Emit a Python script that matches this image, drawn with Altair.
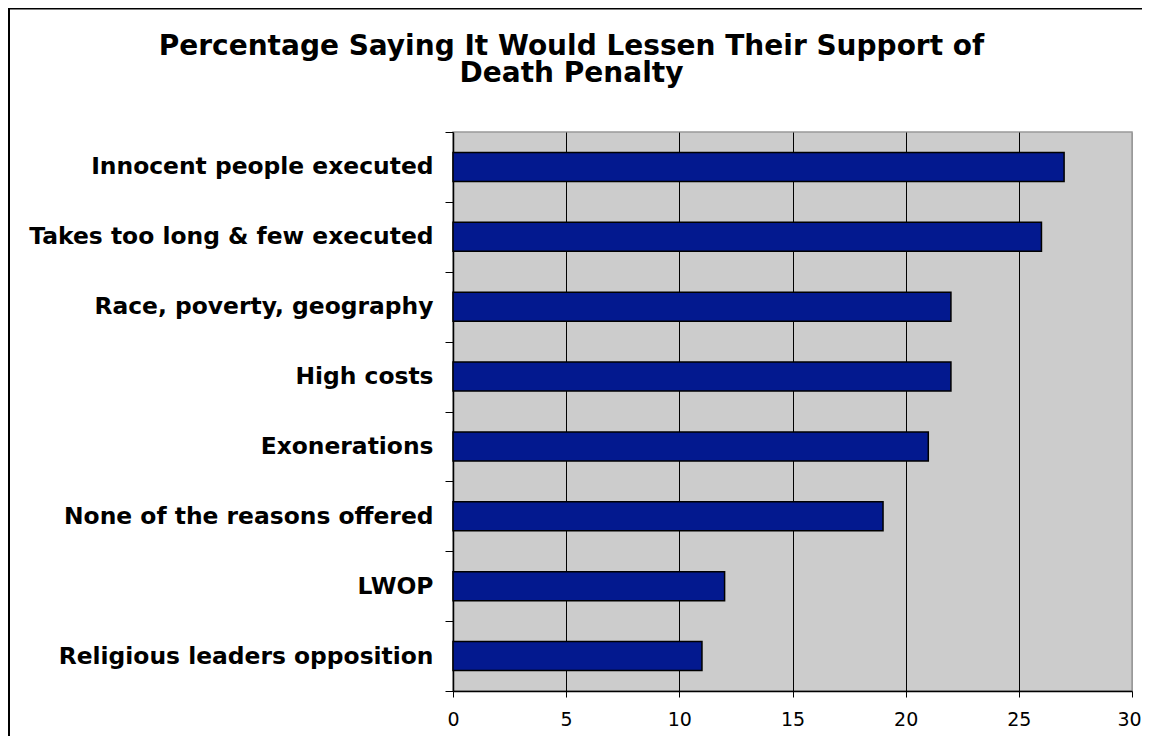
import altair as alt
import pandas as pd

categories = [
    "Innocent people executed",
    "Takes too long & few executed",
    "Race, poverty, geography",
    "High costs",
    "Exonerations",
    "None of the reasons offered",
    "LWOP",
    "Religious leaders opposition",
]
values = [27, 26, 22, 22, 21, 19, 12, 11]
x_ticks = [0, 5, 10, 15, 20, 25, 30]
title_lines = ["Percentage Saying It Would Lessen Their Support of", "Death Penalty"]

df = pd.DataFrame({"reason": categories, "pct": values})

W, H = 679, 559
PL, PT, PR, PB = 445, 124, 10, 45
FONT = "DejaVu Sans"

bars = alt.Chart(df).mark_bar(
    size=29, color="#03198F", stroke="black", strokeWidth=1.5
).encode(
    y=alt.Y(
        "reason:N",
        sort=categories,
        scale=alt.Scale(paddingInner=0, paddingOuter=0),
        axis=alt.Axis(
            title=None,
            tickBand="extent",
            tickSize=8,
            tickColor="black",
            domainColor="black",
            domainWidth=1.5,
            labelFont=FONT,
            labelFontSize=23.4,
            labelFontWeight="bold",
            labelColor="black",
            labelPadding=12,
            labelLimit=500,
            grid=False,
        ),
    ),
    x=alt.X(
        "pct:Q",
        scale=alt.Scale(domain=[0, 30], nice=False),
        axis=alt.Axis(
            title=None,
            values=x_ticks,
            tickSize=6,
            tickColor="black",
            domainColor="black",
            domainWidth=1.5,
            labelFont=FONT,
            labelFontSize=19,
            labelColor="black",
            labelPadding=13,
            labelFlush=False,
            labelOffset={"condition": {"test": "datum.value >= 30", "value": -3}, "value": 0},
            grid=True,
            gridColor={"condition": {"test": "datum.value >= 30 || datum.value <= 0", "value": "#999999"}, "value": "black"},
            gridWidth=1,
        ),
    ),
)

one = alt.Data(values=[{}])

left_border = alt.Chart(one).mark_rule(color="black", strokeWidth=2).encode(
    x=alt.value(-PL + 1),
    y=alt.value(-PT),
    y2=alt.value(H + PB + 20),
)
top_border = alt.Chart(one).mark_rule(color="black", strokeWidth=2).encode(
    x=alt.value(-PL),
    x2=alt.value(W + PR + 20),
    y=alt.value(-PT + 0.5),
)

title = alt.Chart(one).mark_text(
    text=title_lines,
    font=FONT,
    fontSize=28,
    fontWeight="bold",
    color="black",
    align="center",
    baseline="alphabetic",
    lineHeight=27,
).encode(
    x=alt.value(118.5),
    y=alt.value(-77),
)

chart = alt.layer(bars, left_border, top_border, title).properties(
    width=W,
    height=H,
    padding={"left": PL, "top": PT, "right": PR, "bottom": PB},
    autosize=alt.AutoSizeParams(type="none"),
    background="white",
).configure_view(
    fill="#CCCCCC", stroke="#999999", strokeWidth=1.5
)

chart.save("out.html", embed_options={"renderer": "svg", "actions": False})
